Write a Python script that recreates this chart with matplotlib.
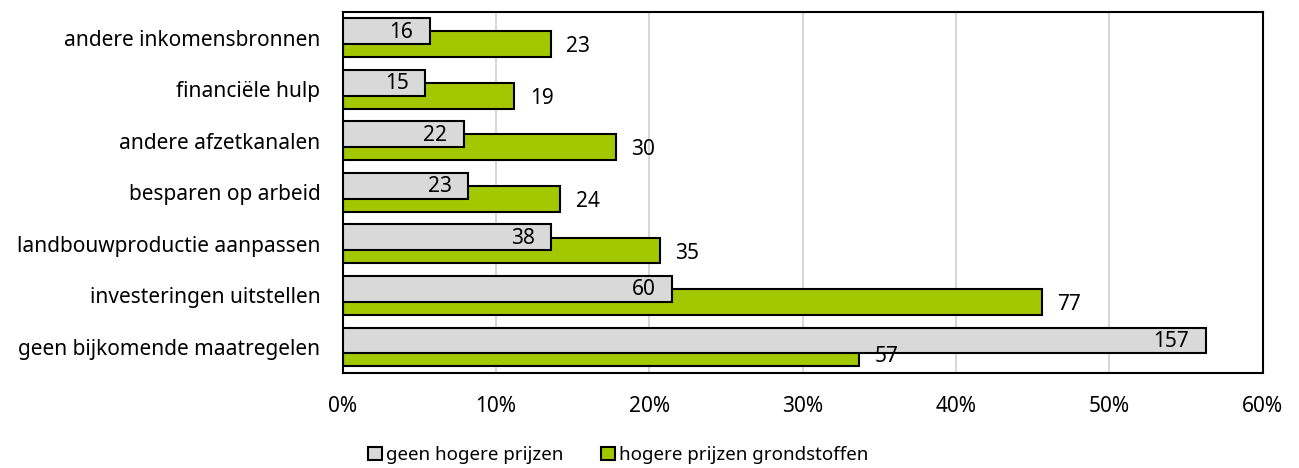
import numpy as np
import matplotlib
matplotlib.use("Agg")
import matplotlib.pyplot as plt

categories = [
    "andere inkomensbronnen",
    "financiële hulp",
    "andere afzetkanalen",
    "besparen op arbeid",
    "landbouwproductie aanpassen",
    "investeringen uitstellen",
    "geen bijkomende maatregelen",
]

pct_geen = [5.7, 5.4, 7.9, 8.2, 13.6, 21.5, 56.3]
pct_hoger = [13.6, 11.2, 17.8, 14.2, 20.7, 45.6, 33.7]
n_geen = [16, 15, 22, 23, 38, 60, 157]
n_hoger = [23, 19, 30, 24, 35, 77, 57]

series_labels = ["geen hogere prijzen", "hogere prijzen grondstoffen"]
xticks = [0, 10, 20, 30, 40, 50, 60]

plt.rcParams["font.family"] = ["Noto Sans", "DejaVu Sans"]
fs = 15

fig = plt.figure(figsize=(12.99, 4.68), dpi=100)
ax = fig.add_axes([0.2638, 0.2036, 0.7082, 0.7708])

y = np.arange(len(categories))
h = 0.5
off = 0.127

bars_hoger = ax.barh(y + off, pct_hoger, height=h, color="#A3C800",
                     edgecolor="black", linewidth=1.5, zorder=2,
                     label=series_labels[1])
bars_geen = ax.barh(y - off, pct_geen, height=h, color="#D9D9D9",
                    edgecolor="black", linewidth=1.5, zorder=3,
                    label=series_labels[0])

for yy, v, n in zip(y, pct_geen, n_geen):
    ax.annotate(str(n), (v, yy - off + 0.02), xytext=(-12, 0),
                textcoords="offset points", ha="right", va="center",
                fontsize=fs, zorder=5)
for yy, v, n in zip(y, pct_hoger, n_hoger):
    ax.annotate(str(n), (v, yy + off + 0.05), xytext=(11, 0),
                textcoords="offset points", ha="left", va="center",
                fontsize=fs, zorder=5)

ax.set_xlim(0, 60)
ax.set_ylim(len(categories) - 0.5, -0.5)
ax.set_yticks(y)
ax.set_yticklabels(categories, fontsize=fs)
ax.set_xticks(xticks)
ax.set_xticklabels([f"{t}%" for t in xticks], fontsize=fs)
ax.tick_params(axis="both", length=0)
ax.tick_params(axis="x", pad=17)
ax.tick_params(axis="y", pad=16)
ax.grid(axis="x", color="#D0D0D0", linewidth=1.2, zorder=0)
ax.set_axisbelow(True)
for s in ax.spines.values():
    s.set_color("black")
    s.set_linewidth(1.5)

handles = [bars_geen, bars_hoger]
fig.legend(handles, series_labels, loc="center",
           bbox_to_anchor=(618 / 1299, 1 - 455 / 468), ncol=2,
           frameon=False, fontsize=13.5, handlelength=0.75, handleheight=0.75,
           handletextpad=0.2, columnspacing=2.0)

fig.savefig("out.png", dpi=100)
